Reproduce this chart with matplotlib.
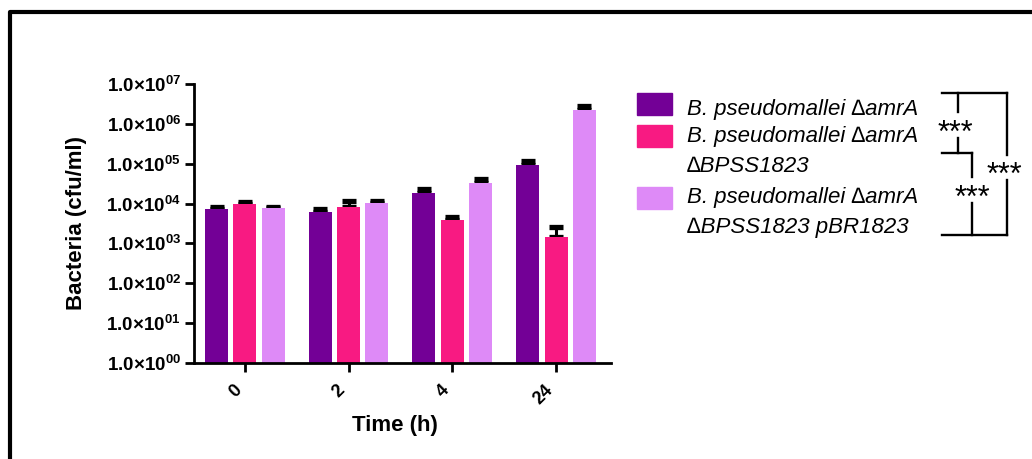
import numpy as np
import matplotlib
matplotlib.use('Agg')
import matplotlib.pyplot as plt
from matplotlib.lines import Line2D
from matplotlib.transforms import ScaledTranslation

plt.rcParams['font.family'] = ['Liberation Sans', 'DejaVu Sans']
plt.rcParams['mathtext.fontset'] = 'custom'
plt.rcParams['mathtext.rm'] = 'Liberation Sans:bold'
plt.rcParams['mathtext.bf'] = 'Liberation Sans:bold'

times = ['0', '2', '4', '24']
series = ['B. pseudomallei \u2206amrA',
          'B. pseudomallei \u2206amrA \u2206BPSS1823',
          'B. pseudomallei \u2206amrA \u2206BPSS1823 pBR1823']
colors = ['#730096', '#F81A82', '#DE8AF7']

amrA = [7350, 6300, 18000, 94000]
amrA_err = [950, 900, 5300, 26000]
dBPSS = [10000, 8250, 3900, 1430]
dBPSS_err = [1000, 3150, 730, 1100]
comp = [7650, 10400, 32400, 2200000]
comp_err = [350, 1500, 9300, 600000]

values = [amrA, dBPSS, comp]
errors = [amrA_err, dBPSS_err, comp_err]

W, H = 1032, 459
fig = plt.figure(figsize=(W / 100, H / 100), dpi=100)
ax = fig.add_axes([194 / W, 1 - 363 / H, 417 / W, 279 / H])

x = np.arange(len(times))
width = 0.222
step = 0.273
for i in range(3):
    pos = x + (i - 1) * step
    ax.bar(pos, values[i], width, color=colors[i], label=series[i], zorder=2,
           yerr=[np.zeros(len(times)), errors[i]],
           error_kw=dict(ecolor='black', elinewidth=2.2, capsize=4.7, capthick=3.8, zorder=1))

ax.set_yscale('log')
ax.set_ylim(1, 1e7)
ax.set_xlim(-0.49, 3.53)
ax.set_yticks([10.0 ** k for k in range(8)])
ax.set_yticklabels([r'$\mathbf{1.0{\times}10^{%02d}}$' % k for k in range(8)], fontsize=13.5)
ax.minorticks_off()
ax.set_xticks(x)
ax.set_xticklabels(times, rotation=45, fontsize=13, fontweight='bold', ha='right', va='top')
for lab in ax.get_xticklabels():
    lab.set_transform(lab.get_transform() + ScaledTranslation(3 / 100, 0, fig.dpi_scale_trans))
ax.spines['top'].set_visible(False)
ax.spines['right'].set_visible(False)
for s in ['left', 'bottom']:
    ax.spines[s].set_linewidth(2)
ax.tick_params(axis='both', width=2, length=6.5, direction='out')
ax.tick_params(axis='x', pad=7)
ax.tick_params(axis='y', pad=3)
ax.set_ylabel('Bacteria (cfu/ml)', fontsize=16, fontweight='bold')
ax.set_xlabel('Time (h)', fontsize=16, fontweight='bold')
ax.yaxis.set_label_coords(-0.257, 0.5)
ax.xaxis.set_label_coords(0.481, -0.186)


def fx(px):
    return px / W


def fy(py):
    return 1 - py / H


# legend drawn by hand in figure pixels
sq_top = [93, 125, 187]
for c, t in zip(colors, sq_top):
    fig.patches.append(plt.Rectangle((fx(637), fy(t + 22)), 35 / W, 22 / H,
                                     transform=fig.transFigure, color=c))
leg_lines = [(115, 'B. pseudomallei \u2206amrA'),
             (141.7, 'B. pseudomallei \u2206amrA'),
             (171.7, '\u2206BPSS1823'),
             (203.3, 'B. pseudomallei \u2206amrA'),
             (233.3, '\u2206BPSS1823 pBR1823')]
for yy, txt in leg_lines:
    fig.text(fx(687), fy(yy), txt, fontsize=16, style='italic', va='baseline', ha='left')

# significance brackets
lw = 1.7


def seg(x0, y0, x1, y1):
    fig.add_artist(Line2D([fx(x0), fx(x1)], [fy(y0), fy(y1)], color='black', lw=lw,
                          transform=fig.transFigure, solid_capstyle='projecting'))


seg(942, 93.3, 1006.7, 93.3)
seg(958.3, 93.3, 958.3, 112)
seg(958.3, 138, 958.3, 153.3)
seg(942, 153.3, 971.7, 153.3)
seg(971.7, 153.3, 971.7, 177)
seg(971.7, 203, 971.7, 235)
seg(942, 235, 1006.7, 235)
seg(1006.7, 93.3, 1006.7, 155)
seg(1006.7, 180, 1006.7, 235)
for sx, sy in [(955, 125), (972, 190), (1004, 167)]:
    fig.text(fx(sx), fy(sy + 17), '***', fontsize=22, ha='center', va='baseline')

# outer frame (cropped)
fig.add_artist(Line2D([fx(10), fx(10), fx(1040)], [fy(470), fy(12), fy(12)],
                      color='black', lw=3, transform=fig.transFigure))

fig.savefig('out.png', dpi=100)
